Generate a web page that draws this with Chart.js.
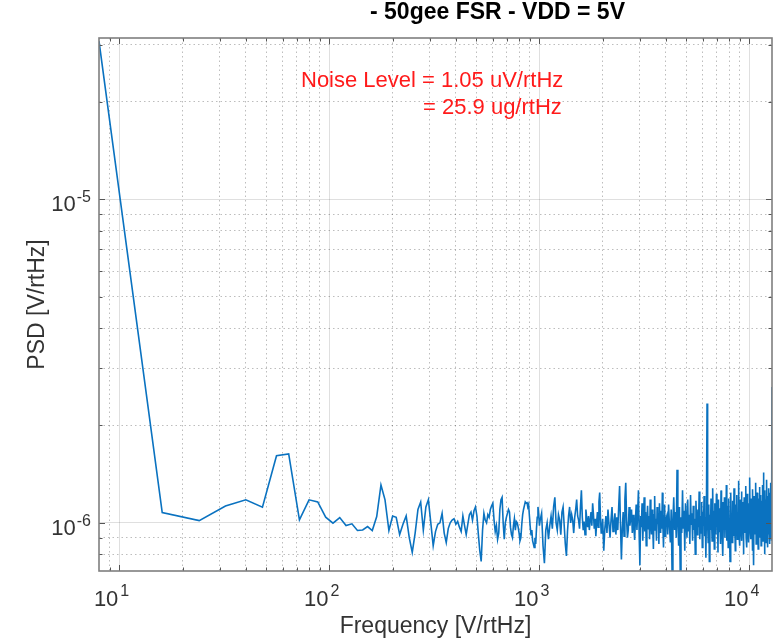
<!DOCTYPE html>
<html lang="en">
<head>
  <meta charset="UTF-8" />
  <title>PSD - 50gee FSR - VDD = 5V</title>
  <style>
    html, body { margin: 0; padding: 0; background: #fff; }
    #wrap { width: 778px; height: 640px; position: relative; }
  </style>
</head>
<body>
  <div id="wrap"><canvas id="psd"></canvas></div>

  <script src="https://cdn.jsdelivr.net/npm/chart.js"></script>
  <script>
    // PSD, in uV/rtHz. Each band: first bin (Hz), bin step (Hz), values
    const lowStart = 8, lowStep = 8;
    const lowPsd = [
      30.8, 1.076, 1.016, 1.128, 1.178, 1.118, 1.613, 1.633, 1.021, 1.178,
      1.161, 1.041, 0.998, 1.038, 0.981, 0.993, 0.947, 0.951, 0.974, 0.947,
      1.046, 1.31, 1.178, 0.947, 1.05, 1.04, 0.92, 0.99, 1.05, 0.90,
      0.81, 0.93, 1.10, 1.16, 0.95, 1.12, 1.18, 1.00, 0.85, 0.94,
      0.99, 1.00, 1.07, 0.93, 0.87, 0.96, 1.00, 1.02, 1.03, 0.99,
      1.01, 0.97, 0.94, 1.05, 0.98, 0.92, 0.99, 1.06, 1.08, 1.02,
      1.09, 1.12, 1.05, 0.92, 0.82, 0.76, 0.95, 1.07, 1.02, 1.00,
      1.06, 1.04, 1.10, 1.13, 1.15, 1.02, 0.94, 0.98, 0.89, 0.93,
      1.10, 1.18, 1.20, 1.00, 0.89, 1.00, 1.04, 1.07, 1.10, 1.08,
      0.97, 0.92, 0.90, 0.98, 1.03, 0.95, 1.01, 1.00, 0.97, 0.93,
      0.88, 0.90, 0.99, 1.06, 1.10, 1.13, 1.16, 1.15, 1.16, 1.12,
      1.14, 1.05, 0.97, 0.92, 0.95, 0.88, 0.86, 0.84, 0.90, 0.86,
      0.96, 1.04, 1.12, 1.06, 0.98
    ];

    const midStart = 1008, midStep = 16;
    const midPsd = [
      1.02, 1.07, 0.85, 0.75, 0.95, 1.00, 0.89, 0.98, 1.05, 0.96,
      1.12, 1.20, 1.00, 0.95, 1.06, 1.02, 0.92, 1.08, 1.12, 0.98,
      0.86, 0.79, 0.94, 1.05, 1.12, 1.00, 1.06, 1.02, 0.93, 1.04,
      1.10, 1.18, 1.05, 1.02, 0.96, 1.12, 1.26, 1.04, 0.95, 1.01,
      0.92, 1.10, 1.03, 0.97, 1.05, 0.95, 1.02, 1.08, 0.98, 1.15,
      1.06, 0.96, 1.03, 0.91, 1.00, 1.08, 0.97, 1.16, 1.24, 1.04,
      0.93, 0.95, 1.03
    ];

    const upperStart = 2024, upperStep = 24;
    const upperPsd = [
      0.82, 0.96, 1.05, 0.93, 1.10, 0.99, 0.90, 1.02, 1.12, 0.94,
      1.00, 1.07, 0.92, 1.04, 0.95, 1.12, 1.30, 0.98, 0.77, 0.96,
      1.08, 0.91, 1.18, 1.33, 1.02, 0.90, 0.95, 1.12, 0.98, 1.04,
      1.10, 0.93, 1.06, 0.97, 0.886, 1.02, 1.14, 0.95, 1.08, 1.26,
      0.92, 0.74, 1.05, 0.97, 1.15, 0.88, 1.02, 1.20, 0.94, 1.08,
      0.85, 1.00, 1.13, 0.96, 1.05, 0.89, 1.18, 1.01, 0.92, 1.10,
      0.97, 0.83, 1.06, 1.21, 0.95, 1.03, 0.88, 1.12, 0.99, 1.07,
      0.86, 1.15, 1.00, 0.93, 1.09, 0.96, 1.24, 0.98, 0.84, 1.05,
      1.14, 0.91, 1.02
    ];

    const highStart = 4040, highStep = 40;
    const highPsd = [
      1.05, 0.92, 1.14, 0.98, 0.87, 1.10, 0.70, 1.02, 1.20, 0.95,
      1.08, 0.90, 1.46, 1.00, 0.85, 1.12, 0.70, 1.04, 0.93, 1.26,
      0.96, 1.09, 0.82, 1.15, 1.01, 0.90, 1.18, 0.94, 1.06, 0.86,
      1.22, 0.99, 1.07, 0.88, 1.13, 0.95, 1.03, 0.80, 1.17, 1.00,
      0.92, 1.10, 0.97, 1.25, 0.89, 1.05, 0.93, 1.16, 0.84, 1.08,
      0.98, 1.21, 0.91, 1.04, 0.78, 1.12, 2.34, 1.00, 0.87, 1.14,
      0.76, 1.06, 0.95, 1.19, 1.02, 0.88, 1.28, 0.96, 1.09, 0.83,
      1.15, 1.00, 0.92, 1.23, 0.97, 1.07, 0.81, 1.18, 0.94, 1.11,
      0.99, 0.86, 1.26, 1.03, 0.93, 1.16, 0.79, 1.09, 1.01, 1.20,
      0.90, 1.05, 0.95, 1.31, 0.88, 1.13, 0.98, 0.84, 1.19, 1.02,
      0.93, 0.76, 1.10, 1.24, 0.96, 1.07, 0.87, 1.17, 1.00, 0.91,
      1.28, 0.97, 1.08, 0.82, 1.14, 1.03, 0.94, 1.22, 0.89, 1.06,
      0.99, 1.35, 0.92, 1.11, 0.85, 1.18, 1.01, 0.95, 1.25, 0.88,
      1.09, 0.97, 1.16, 0.80, 1.04, 1.20, 0.93, 1.12, 0.98, 1.30,
      0.90, 1.07, 0.84, 1.23, 1.00, 0.95, 1.15, 0.87, 1.10, 1.03,
      1.38, 0.94, 1.13, 0.89, 1.19, 0.99, 1.06, 0.82, 1.27, 0.96,
      1.11, 0.74, 1.21, 1.02, 0.92, 1.16, 0.97, 1.33, 0.86, 1.08,
      1.00, 1.24, 0.91, 1.14, 0.83, 1.19, 1.04, 0.95, 1.29, 0.90,
      1.12, 0.98, 1.22, 0.85, 1.07, 1.17, 0.93, 1.31, 1.01, 0.88,
      1.15, 1.43, 0.96, 1.09, 0.80, 1.26, 1.03, 0.94, 1.18, 0.87,
      1.10, 1.36, 0.99, 1.21, 0.84, 1.13, 1.05, 0.92, 1.28, 0.97,
      1.17, 0.86, 1.24, 1.02, 0.90, 1.33, 0.95, 1.20, 0.88, 2.63
    ];

    // axis ticks (MATLAB style: decades labelled, 2..9 minor)
    const xTicks = [9, 10, 20, 30, 40, 50, 60, 70, 80, 90,
      100, 200, 300, 400, 500, 600, 700, 800, 900,
      1000, 2000, 3000, 4000, 5000, 6000, 7000, 8000, 9000, 10000];
    const yTicks = [8e-7, 9e-7, 1e-6, 2e-6, 3e-6, 4e-6, 5e-6, 6e-6, 7e-6, 8e-6, 9e-6,
      1e-5, 2e-5, 3e-5];
    const xLabelled = [10, 100, 1000, 10000];
    const yLabelled = [1e-6, 1e-5];

    const titleText = '- 50gee FSR - VDD = 5V';
    const noteLines = ['Noise Level = 1.05 uV/rtHz', '= 25.9 ug/rtHz'];
    const xTitle = 'Frequency [V/rtHz]';
    const yTitle = 'PSD [V/rtHz]';

    function toPoints(start, step, vals) {
      return vals.map((v, i) => ({ x: start + i * step, y: v * 1e-6 }));
    }

    const points = [
      ...toPoints(lowStart, lowStep, lowPsd),
      ...toPoints(midStart, midStep, midPsd),
      ...toPoints(upperStart, upperStep, upperPsd),
      ...toPoints(highStart, highStep, highPsd)
    ];

    const isDecade = v => Math.abs(Math.log10(v) - Math.round(Math.log10(v))) < 1e-6;
    const FONT = '"Liberation Sans", Arial, Helvetica, sans-serif';

    // draws the box, inward ticks, 10^n labels and texts like a MATLAB figure
    const matlabAxes = {
      id: 'matlabAxes',
      afterDatasetsDraw(chart) {
        const { ctx, chartArea: a, scales: { x, y } } = chart;
        ctx.save();

        ctx.strokeStyle = '#555';
        ctx.lineWidth = 1;
        ctx.beginPath();
        xTicks.forEach(v => {
          const px = Math.round(x.getPixelForValue(v)) + 0.5;
          const len = isDecade(v) ? 6 : 3.5;
          ctx.moveTo(px, a.bottom); ctx.lineTo(px, a.bottom - len);
          ctx.moveTo(px, a.top); ctx.lineTo(px, a.top + len);
        });
        yTicks.forEach(v => {
          const py = Math.round(y.getPixelForValue(v)) + 0.5;
          const len = isDecade(v) ? 6 : 3.5;
          ctx.moveTo(a.left, py); ctx.lineTo(a.left + len, py);
          ctx.moveTo(a.right, py); ctx.lineTo(a.right - len, py);
        });
        ctx.stroke();

        ctx.strokeStyle = '#7f7f7f';
        ctx.lineWidth = 1.6;
        ctx.strokeRect(a.left, a.top, a.right - a.left, a.bottom - a.top);

        // tick labels
        ctx.fillStyle = '#333';
        xLabelled.forEach(v => {
          const px = x.getPixelForValue(v);
          ctx.font = '22px ' + FONT;
          ctx.textAlign = 'right';
          ctx.textBaseline = 'alphabetic';
          ctx.fillText('10', px - 1, a.bottom + 35);
          ctx.font = '16px ' + FONT;
          ctx.textAlign = 'left';
          ctx.fillText(String(Math.round(Math.log10(v))), px + 1, a.bottom + 25);
        });
        yLabelled.forEach(v => {
          const py = y.getPixelForValue(v);
          const exp = String(Math.round(Math.log10(v)));
          ctx.font = '16px ' + FONT;
          ctx.textAlign = 'right';
          ctx.fillText(exp, a.left - 8, py + 3);
          const ew = ctx.measureText(exp).width;
          ctx.font = '22px ' + FONT;
          ctx.fillText('10', a.left - 9 - ew, py + 12);
        });

        // axis titles
        ctx.font = '23px ' + FONT;
        ctx.textAlign = 'center';
        ctx.fillText(xTitle, (a.left + a.right) / 2, a.bottom + 62);
        ctx.save();
        ctx.translate(44, (a.top + a.bottom) / 2);
        ctx.rotate(-Math.PI / 2);
        ctx.textBaseline = 'alphabetic';
        ctx.fillText(yTitle, 0, 0);
        ctx.restore();

        // title
        ctx.fillStyle = '#000';
        ctx.font = 'bold 23px ' + FONT;
        ctx.textAlign = 'left';
        ctx.fillText(titleText, 370, 19);

        // noise level note
        ctx.fillStyle = '#ff1a1a';
        ctx.font = '22px ' + FONT;
        ctx.fillText(noteLines[0], 301, 87);
        ctx.fillText(noteLines[1], 423, 114);

        ctx.restore();
      }
    };

    const majorGrid = 'rgba(38, 38, 38, 0.15)';
    const minorGrid = 'rgba(38, 38, 38, 0.30)';

    function logAxis(min, max, ticks) {
      return {
        type: 'logarithmic',
        min: min,
        max: max,
        afterBuildTicks: scale => { scale.ticks = ticks.map(v => ({ value: v })); },
        ticks: { display: false },
        title: { display: false },
        grid: {
          drawTicks: false,
          lineWidth: 1,
          color: ctx => (ctx.tick && isDecade(ctx.tick.value)) ? majorGrid : minorGrid
        },
        border: {
          display: false,
          dash: ctx => (ctx.tick && !isDecade(ctx.tick.value)) ? [1.5, 3] : []
        }
      };
    }

    new Chart(document.getElementById('psd'), {
      type: 'line',
      data: {
        datasets: [{
          label: 'PSD',
          data: points,
          borderColor: '#0a72c0',
          borderWidth: 1.6,
          pointRadius: 0,
          tension: 0,
          fill: false
        }]
      },
      options: {
        responsive: true,
        maintainAspectRatio: false,
        animation: false,
        events: [],
        layout: { padding: { left: 99, top: 38, right: 6, bottom: 69 } },
        scales: {
          x: logAxis(8, 12800, xTicks),
          y: logAxis(7.1e-7, 3.15e-5, yTicks)
        },
        plugins: {
          legend: { display: false },
          tooltip: { enabled: false }
        }
      },
      plugins: [matlabAxes]
    });
  </script>
</body>
</html>
